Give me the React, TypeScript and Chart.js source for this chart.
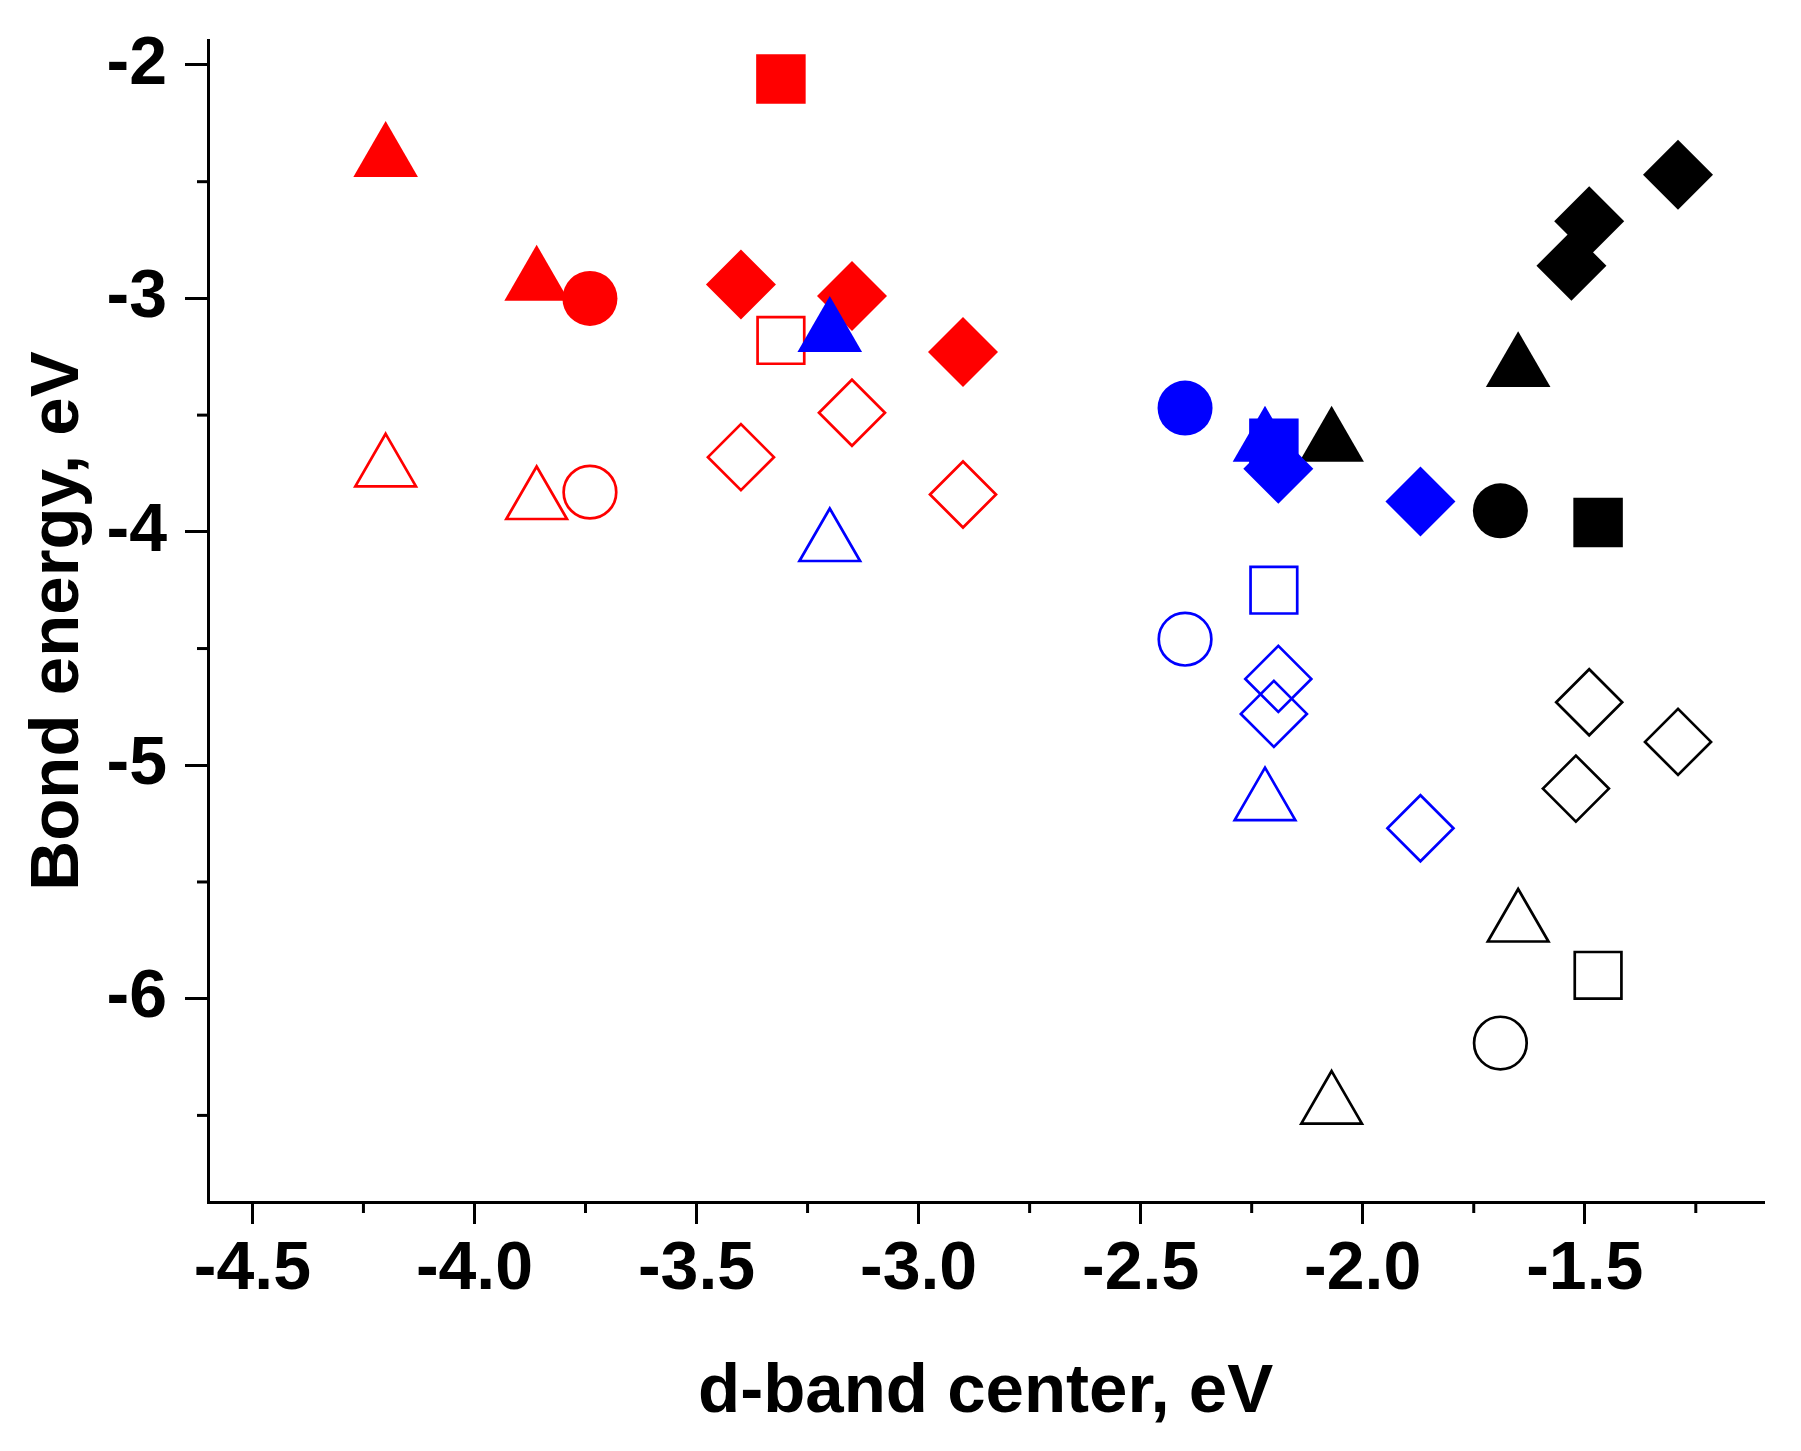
import React, { useEffect, useRef } from "react";
import { Chart, registerables } from "chart.js";

Chart.register(...registerables);

type Pt = [number, number];

// ---- Data (d-band center, bond energy) ----
// Red group
const redFilledTriangles: Pt[] = [[-4.2, -2.4], [-3.86, -2.93]];
const redFilledCircles: Pt[] = [[-3.74, -3.0]];
const redFilledSquares: Pt[] = [[-3.31, -2.06]];
const redFilledDiamonds: Pt[] = [[-3.4, -2.94], [-3.15, -2.99], [-2.9, -3.23]];
const redOpenTriangles: Pt[] = [[-4.2, -3.73], [-3.86, -3.87]];
const redOpenCircles: Pt[] = [[-3.74, -3.83]];
const redOpenSquares: Pt[] = [[-3.31, -3.18]];
const redOpenDiamonds: Pt[] = [[-3.4, -3.68], [-3.15, -3.49], [-2.9, -3.84]];

// Blue group
const blueFilledTriangles: Pt[] = [[-3.2, -3.15], [-2.22, -3.62]];
const blueFilledCircles: Pt[] = [[-2.4, -3.47]];
const blueFilledSquares: Pt[] = [[-2.2, -3.62]];
const blueFilledDiamonds: Pt[] = [[-2.19, -3.73], [-1.87, -3.87]];
const blueOpenTriangles: Pt[] = [[-3.2, -4.05], [-2.22, -5.16]];
const blueOpenCircles: Pt[] = [[-2.4, -4.46]];
const blueOpenSquares: Pt[] = [[-2.2, -4.25]];
const blueOpenDiamonds: Pt[] = [[-2.19, -4.63], [-2.2, -4.78], [-1.87, -5.27]];

// Black group
const blackFilledTriangles: Pt[] = [[-2.07, -3.62], [-1.65, -3.3]];
const blackFilledCircles: Pt[] = [[-1.69, -3.91]];
const blackFilledSquares: Pt[] = [[-1.47, -3.96]];
const blackFilledDiamonds: Pt[] = [[-1.29, -2.47], [-1.49, -2.67], [-1.53, -2.86]];
const blackOpenTriangles: Pt[] = [[-1.65, -5.68], [-2.07, -6.46]];
const blackOpenCircles: Pt[] = [[-1.69, -6.19]];
const blackOpenSquares: Pt[] = [[-1.47, -5.9]];
const blackOpenDiamonds: Pt[] = [[-1.49, -4.73], [-1.29, -4.9], [-1.52, -5.1]];

// ---- Axes ----
const xMin = -4.6;
const xMax = -1.098;
const yMin = -6.871;
const yMax = -1.893;
const xMinorTicks = [-4.25, -3.75, -3.25, -2.75, -2.25, -1.75, -1.25];
const yMinorTicks = [-2.5, -3.5, -4.5, -5.5, -6.5];
const xTitle = "d-band center, eV";
const yTitle = "Bond energy, eV";

// ---- Styles ----
const RED = "#ff0000";
const BLUE = "#0000ff";
const BLACK = "#000000";
const FONT = "'Liberation Sans', Arial, Helvetica, sans-serif";

type Shape = "circle" | "triangle" | "rect" | "rectRot";
const filledRadius: Record<Shape, number> = { circle: 27.5, triangle: 37.3, rect: 35, rectRot: 35 };
const openRadius: Record<Shape, number> = { circle: 26.3, triangle: 35, rect: 33, rectRot: 33 };

function makeSet(points: Pt[], color: string, shape: Shape, filled: boolean, order: number) {
  return {
    data: points.map(([x, y]) => ({ x, y })),
    showLine: false,
    pointStyle: shape,
    pointRadius: filled ? filledRadius[shape] : openRadius[shape],
    pointHoverRadius: filled ? filledRadius[shape] : openRadius[shape],
    pointBackgroundColor: filled ? color : "rgba(0,0,0,0)",
    pointBorderColor: color,
    pointBorderWidth: filled ? 0 : 2.7,
    pointHoverBorderWidth: filled ? 0 : 2.7,
    clip: false as any,
    order,
  };
}

const minorTicksPlugin = {
  id: "minorTicks",
  afterDraw(chart: any) {
    const { ctx, chartArea } = chart;
    const xs = chart.scales.x;
    const ys = chart.scales.y;
    ctx.save();
    ctx.strokeStyle = BLACK;
    ctx.lineWidth = 3;
    xMinorTicks.forEach((v) => {
      const px = xs.getPixelForValue(v);
      ctx.beginPath();
      ctx.moveTo(px, chartArea.bottom);
      ctx.lineTo(px, chartArea.bottom + 11);
      ctx.stroke();
    });
    yMinorTicks.forEach((v) => {
      const py = ys.getPixelForValue(v);
      ctx.beginPath();
      ctx.moveTo(chartArea.left, py);
      ctx.lineTo(chartArea.left - 11, py);
      ctx.stroke();
    });
    ctx.restore();
  },
};

export default function App() {
  const ref = useRef<HTMLCanvasElement>(null);

  useEffect(() => {
    document.body.style.margin = "0";
    const datasets = [
      // blue on top
      makeSet(blueFilledTriangles, BLUE, "triangle", true, 1),
      makeSet(blueFilledSquares, BLUE, "rect", true, 1),
      makeSet(blueFilledDiamonds, BLUE, "rectRot", true, 1),
      makeSet(blueFilledCircles, BLUE, "circle", true, 1),
      makeSet(blueOpenTriangles, BLUE, "triangle", false, 1),
      makeSet(blueOpenCircles, BLUE, "circle", false, 1),
      makeSet(blueOpenSquares, BLUE, "rect", false, 1),
      makeSet(blueOpenDiamonds, BLUE, "rectRot", false, 1),
      // black
      makeSet(blackFilledTriangles, BLACK, "triangle", true, 2),
      makeSet(blackFilledCircles, BLACK, "circle", true, 2),
      makeSet(blackFilledSquares, BLACK, "rect", true, 2),
      makeSet(blackFilledDiamonds, BLACK, "rectRot", true, 2),
      makeSet(blackOpenTriangles, BLACK, "triangle", false, 2),
      makeSet(blackOpenCircles, BLACK, "circle", false, 2),
      makeSet(blackOpenSquares, BLACK, "rect", false, 2),
      makeSet(blackOpenDiamonds, BLACK, "rectRot", false, 2),
      // red at the bottom
      makeSet(redFilledTriangles, RED, "triangle", true, 3),
      makeSet(redFilledCircles, RED, "circle", true, 3),
      makeSet(redFilledSquares, RED, "rect", true, 3),
      makeSet(redFilledDiamonds, RED, "rectRot", true, 3),
      makeSet(redOpenTriangles, RED, "triangle", false, 3),
      makeSet(redOpenCircles, RED, "circle", false, 3),
      makeSet(redOpenSquares, RED, "rect", false, 3),
      makeSet(redOpenDiamonds, RED, "rectRot", false, 3),
    ];

    const tickFont = { family: FONT, size: 68, weight: "bold" as const, lineHeight: 1.2 };
    const titleFont = { family: FONT, size: 69, weight: "bold" as const, lineHeight: 1.2 };

    const chart = new Chart(ref.current as HTMLCanvasElement, {
      type: "scatter",
      data: { datasets: datasets as any },
      plugins: [minorTicksPlugin],
      options: {
        animation: false,
        responsive: false,
        maintainAspectRatio: false,
        devicePixelRatio: 1,
        events: [],
        layout: { padding: { top: 40, right: 29, left: 0, bottom: 0 } },
        plugins: {
          legend: { display: false },
          tooltip: { enabled: false },
          title: { display: false },
        },
        scales: {
          x: {
            type: "linear",
            position: "bottom",
            min: xMin,
            max: xMax,
            ticks: {
              stepSize: 0.5,
              includeBounds: false,
              autoSkip: false,
              maxRotation: 0,
              minRotation: 0,
              padding: 5,
              color: BLACK,
              font: tickFont,
              callback: (v: any) => Number(v).toFixed(1),
            },
            grid: {
              drawOnChartArea: false,
              drawTicks: true,
              tickLength: 22,
              color: BLACK,
              lineWidth: 3,
            },
            border: { display: true, color: BLACK, width: 3 },
            title: {
              display: true,
              text: xTitle,
              color: BLACK,
              font: titleFont,
              padding: { top: 0, bottom: 17 },
            },
            afterFit: (s: any) => {
              s.height = 249;
              s.paddingLeft = 0;
              s.paddingRight = 0;
            },
          },
          y: {
            type: "linear",
            position: "left",
            min: yMin,
            max: yMax,
            ticks: {
              stepSize: 1,
              includeBounds: false,
              autoSkip: false,
              padding: 18,
              color: BLACK,
              font: tickFont,
              callback: (v: any) => String(Number(v)),
            },
            grid: {
              drawOnChartArea: false,
              drawTicks: true,
              tickLength: 23,
              color: BLACK,
              lineWidth: 3,
            },
            border: { display: true, color: BLACK, width: 3 },
            title: {
              display: true,
              text: yTitle,
              color: BLACK,
              font: titleFont,
              padding: { top: 18, bottom: 0 },
            },
            afterFit: (s: any) => {
              s.width = 208;
              s.paddingTop = 0;
              s.paddingBottom = 0;
            },
          },
        },
      } as any,
    });

    return () => chart.destroy();
  }, []);

  return (
    <div style={{ width: 1801, height: 1451, background: "#ffffff", overflow: "hidden" }}>
      <canvas ref={ref} width={1801} height={1451} style={{ display: "block", width: 1801, height: 1451 }} />
    </div>
  );
}
